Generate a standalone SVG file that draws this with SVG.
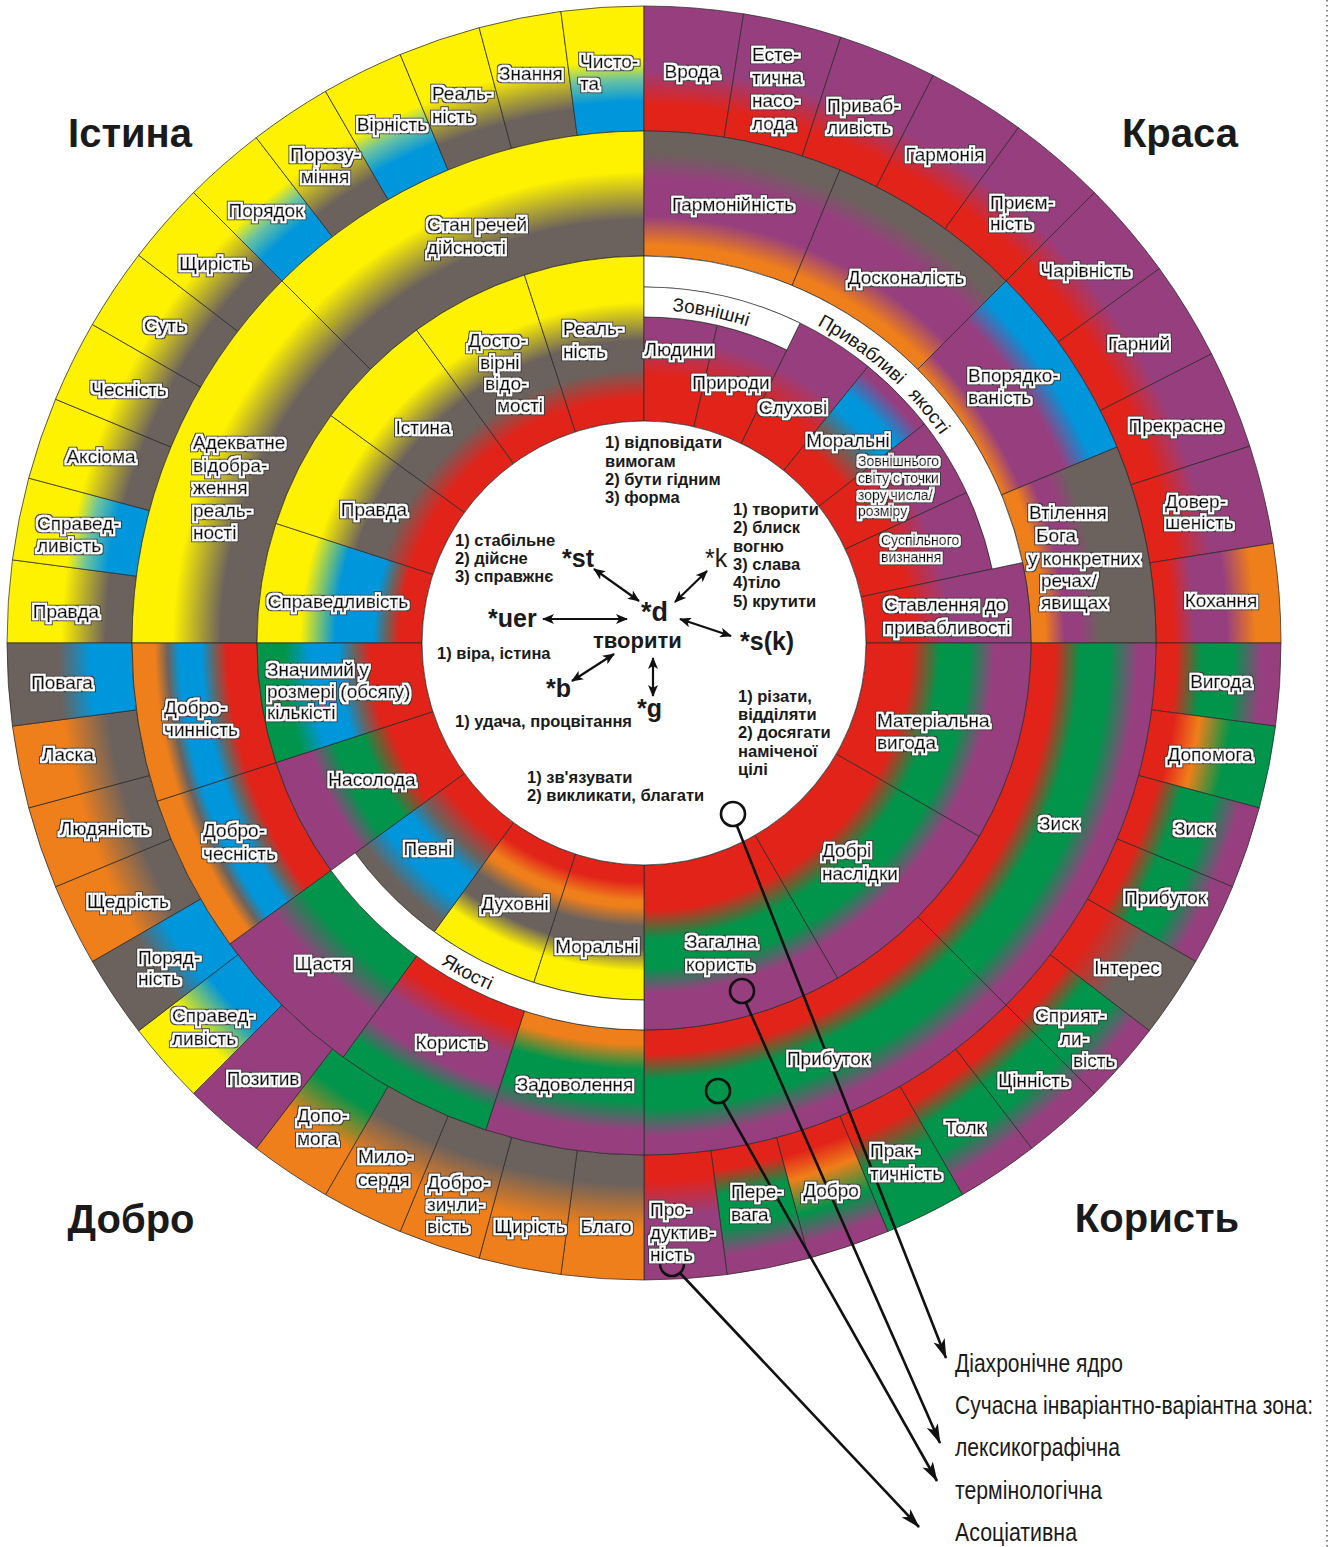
<svg xmlns="http://www.w3.org/2000/svg" width="1333" height="1547" viewBox="0 0 1333 1547">
<defs>
<style>
.Y{stop-color:#FFF200}.B{stop-color:#6C625D}.L{stop-color:#0096DB}.R{stop-color:#E2231A}.P{stop-color:#973F7E}.G{stop-color:#00954A}.O{stop-color:#EF7F1A}.T{stop-color:#6CC3A0}
.sec{stroke:#2a2a2a;stroke-width:.7}
.wb{fill:#fff;stroke:#2a2a2a;stroke-width:.7}
.lb{font-family:"Liberation Sans",Arial,sans-serif;font-size:19px;fill:#111;stroke:#111;stroke-width:.4}
.ls{font-size:14px;stroke-width:.3}
.m{text-anchor:middle}
.ab{font-family:"Liberation Sans",Arial,sans-serif;font-size:19px;fill:#161616}
.ct{font-family:"Liberation Sans",Arial,sans-serif;font-size:16.5px;font-weight:bold;fill:#1a1a1a}
.rt{font-family:"Liberation Sans",Arial,sans-serif;font-weight:bold;fill:#1a1a1a}
.ti{font-family:"Liberation Sans",Arial,sans-serif;font-size:40px;font-weight:bold;fill:#1a1a1a;text-anchor:middle}
.lg{font-family:"Liberation Sans Narrow","Liberation Sans",Arial,sans-serif;font-size:20px;fill:#1a1a1a}
.cn{fill:none;stroke:#111;stroke-width:2.6}
.ca{fill:none;stroke:#111;stroke-width:2.2}
</style>
<filter id="halo" x="-5%" y="-5%" width="110%" height="110%">
<feMorphology in="SourceAlpha" operator="dilate" radius="2.7" result="outer"/>
<feFlood flood-color="#3a3a3a" result="f1"/><feComposite in="f1" in2="outer" operator="in" result="rim"/>
<feMorphology in="SourceAlpha" operator="dilate" radius="2" result="inner"/>
<feFlood flood-color="#ffffff" result="f2"/><feComposite in="f2" in2="inner" operator="in" result="wh"/>
<feMerge><feMergeNode in="rim"/><feMergeNode in="wh"/><feMergeNode in="SourceGraphic"/></feMerge>
</filter>
<radialGradient id="g4YBr" gradientUnits="userSpaceOnUse" cx="644" cy="643" r="637"><stop offset=".804" class="B"/><stop offset=".845" class="B"/><stop offset=".915" class="Y"/><stop offset="1" class="Y"/></radialGradient>
<radialGradient id="g4YBl" gradientUnits="userSpaceOnUse" cx="644" cy="643" r="637"><stop offset=".804" class="L"/><stop offset=".85" class="L"/><stop offset=".885" class="T"/><stop offset=".915" class="Y"/><stop offset="1" class="Y"/></radialGradient>
<radialGradient id="g4PR" gradientUnits="userSpaceOnUse" cx="644" cy="643" r="637"><stop offset=".804" class="R"/><stop offset=".845" class="R"/><stop offset=".9" class="P"/><stop offset="1" class="P"/></radialGradient>
<radialGradient id="g4Kox" gradientUnits="userSpaceOnUse" cx="644" cy="643" r="637"><stop offset=".804" class="R"/><stop offset=".83" class="R"/><stop offset=".865" class="P"/><stop offset=".915" class="P"/><stop offset=".96" class="O"/><stop offset="1" class="O"/></radialGradient>
<radialGradient id="g4RGP" gradientUnits="userSpaceOnUse" cx="644" cy="643" r="637"><stop offset=".804" class="R"/><stop offset=".835" class="R"/><stop offset=".875" class="G"/><stop offset=".925" class="G"/><stop offset=".97" class="P"/><stop offset="1" class="P"/></radialGradient>
<radialGradient id="g4ROG" gradientUnits="userSpaceOnUse" cx="644" cy="643" r="637"><stop offset=".804" class="R"/><stop offset=".84" class="R"/><stop offset=".88" class="O"/><stop offset=".93" class="G"/><stop offset="1" class="G"/></radialGradient>
<radialGradient id="g4RBr" gradientUnits="userSpaceOnUse" cx="644" cy="643" r="637"><stop offset=".804" class="R"/><stop offset=".84" class="R"/><stop offset=".91" class="B"/><stop offset="1" class="B"/></radialGradient>
<radialGradient id="g4RG" gradientUnits="userSpaceOnUse" cx="644" cy="643" r="637"><stop offset=".804" class="R"/><stop offset=".845" class="R"/><stop offset=".9" class="G"/><stop offset="1" class="G"/></radialGradient>
<radialGradient id="g4ROGP" gradientUnits="userSpaceOnUse" cx="644" cy="643" r="637"><stop offset=".804" class="R"/><stop offset=".835" class="R"/><stop offset=".875" class="O"/><stop offset=".93" class="G"/><stop offset=".975" class="P"/><stop offset="1" class="P"/></radialGradient>
<radialGradient id="g4BlBr" gradientUnits="userSpaceOnUse" cx="644" cy="643" r="637"><stop offset=".804" class="L"/><stop offset=".87" class="L"/><stop offset=".92" class="B"/><stop offset="1" class="B"/></radialGradient>
<radialGradient id="g4BrO" gradientUnits="userSpaceOnUse" cx="644" cy="643" r="637"><stop offset=".804" class="B"/><stop offset=".85" class="B"/><stop offset=".92" class="O"/><stop offset="1" class="O"/></radialGradient>
<radialGradient id="g4BlY" gradientUnits="userSpaceOnUse" cx="644" cy="643" r="637"><stop offset=".804" class="L"/><stop offset=".86" class="L"/><stop offset=".93" class="Y"/><stop offset="1" class="Y"/></radialGradient>
<radialGradient id="g4GO" gradientUnits="userSpaceOnUse" cx="644" cy="643" r="637"><stop offset=".804" class="G"/><stop offset=".85" class="G"/><stop offset=".92" class="O"/><stop offset="1" class="O"/></radialGradient>
<radialGradient id="g3YBr" gradientUnits="userSpaceOnUse" cx="644" cy="643" r="637"><stop offset=".608" class="B"/><stop offset=".665" class="B"/><stop offset=".74" class="Y"/><stop offset=".804" class="Y"/></radialGradient>
<radialGradient id="g3Harm" gradientUnits="userSpaceOnUse" cx="644" cy="643" r="637"><stop offset=".608" class="O"/><stop offset=".625" class="O"/><stop offset=".67" class="P"/><stop offset=".73" class="P"/><stop offset=".77" class="B"/><stop offset=".804" class="B"/></radialGradient>
<radialGradient id="g3Vpor" gradientUnits="userSpaceOnUse" cx="644" cy="643" r="637"><stop offset=".608" class="O"/><stop offset=".64" class="P"/><stop offset=".715" class="P"/><stop offset=".76" class="L"/><stop offset=".804" class="L"/></radialGradient>
<radialGradient id="g3Vtil" gradientUnits="userSpaceOnUse" cx="644" cy="643" r="637"><stop offset=".608" class="O"/><stop offset=".63" class="O"/><stop offset=".66" class="P"/><stop offset=".685" class="P"/><stop offset=".715" class="B"/><stop offset=".804" class="B"/></radialGradient>
<radialGradient id="g3Dch" gradientUnits="userSpaceOnUse" cx="644" cy="643" r="637"><stop offset=".608" class="R"/><stop offset=".655" class="R"/><stop offset=".675" class="B"/><stop offset=".695" class="L"/><stop offset=".73" class="L"/><stop offset=".748" class="B"/><stop offset=".768" class="O"/><stop offset=".804" class="O"/></radialGradient>
<radialGradient id="g3Shch" gradientUnits="userSpaceOnUse" cx="644" cy="643" r="637"><stop offset=".608" class="G"/><stop offset=".66" class="G"/><stop offset=".72" class="P"/><stop offset=".804" class="P"/></radialGradient>
<radialGradient id="g3Kor" gradientUnits="userSpaceOnUse" cx="644" cy="643" r="637"><stop offset=".608" class="R"/><stop offset=".635" class="R"/><stop offset=".68" class="P"/><stop offset=".73" class="P"/><stop offset=".77" class="G"/><stop offset=".804" class="G"/></radialGradient>
<radialGradient id="g3Zad" gradientUnits="userSpaceOnUse" cx="644" cy="643" r="637"><stop offset=".608" class="O"/><stop offset=".63" class="O"/><stop offset=".67" class="G"/><stop offset=".72" class="G"/><stop offset=".765" class="P"/><stop offset=".804" class="P"/></radialGradient>
<radialGradient id="g3RGP" gradientUnits="userSpaceOnUse" cx="644" cy="643" r="637"><stop offset=".608" class="R"/><stop offset=".645" class="R"/><stop offset=".685" class="G"/><stop offset=".73" class="G"/><stop offset=".775" class="P"/><stop offset=".804" class="P"/></radialGradient>
<radialGradient id="g2RBlY" gradientUnits="userSpaceOnUse" cx="644" cy="643" r="637"><stop offset=".349" class="R"/><stop offset=".385" class="R"/><stop offset=".405" class="B"/><stop offset=".425" class="L"/><stop offset=".485" class="L"/><stop offset=".54" class="Y"/><stop offset=".608" class="Y"/></radialGradient>
<radialGradient id="g2RBrY" gradientUnits="userSpaceOnUse" cx="644" cy="643" r="637"><stop offset=".349" class="R"/><stop offset=".385" class="R"/><stop offset=".43" class="B"/><stop offset=".475" class="B"/><stop offset=".535" class="Y"/><stop offset=".608" class="Y"/></radialGradient>
<radialGradient id="g2RP" gradientUnits="userSpaceOnUse" cx="644" cy="643" r="637"><stop offset=".349" class="R"/><stop offset=".42" class="R"/><stop offset=".48" class="P"/><stop offset=".608" class="P"/></radialGradient>
<radialGradient id="g2Mor" gradientUnits="userSpaceOnUse" cx="644" cy="643" r="637"><stop offset=".349" class="R"/><stop offset=".40" class="R"/><stop offset=".44" class="B"/><stop offset=".475" class="L"/><stop offset=".505" class="L"/><stop offset=".545" class="P"/><stop offset=".608" class="P"/></radialGradient>
<radialGradient id="g2RBlG" gradientUnits="userSpaceOnUse" cx="644" cy="643" r="637"><stop offset=".349" class="R"/><stop offset=".43" class="R"/><stop offset=".455" class="B"/><stop offset=".48" class="L"/><stop offset=".525" class="L"/><stop offset=".565" class="G"/><stop offset=".608" class="G"/></radialGradient>
<radialGradient id="g2RGP" gradientUnits="userSpaceOnUse" cx="644" cy="643" r="637"><stop offset=".349" class="R"/><stop offset=".42" class="R"/><stop offset=".465" class="G"/><stop offset=".51" class="G"/><stop offset=".55" class="P"/><stop offset=".608" class="P"/></radialGradient>
<radialGradient id="g2Pev" gradientUnits="userSpaceOnUse" cx="644" cy="643" r="637"><stop offset=".349" class="R"/><stop offset=".385" class="R"/><stop offset=".425" class="B"/><stop offset=".455" class="L"/><stop offset=".5" class="L"/><stop offset=".54" class="B"/><stop offset=".56" class="B"/></radialGradient>
<radialGradient id="g2ROBrY" gradientUnits="userSpaceOnUse" cx="644" cy="643" r="637"><stop offset=".349" class="R"/><stop offset=".375" class="R"/><stop offset=".405" class="O"/><stop offset=".415" class="O"/><stop offset=".445" class="B"/><stop offset=".48" class="B"/><stop offset=".515" class="Y"/><stop offset=".56" class="Y"/></radialGradient>
<path id="s4a" d="M644,131 L644,6 A637,637 0 0 1 727.15,11.45 L710.83,135.38 A512,512 0 0 0 644,131Z"/>
<path id="s4b" d="M644,131 L644,6 A637,637 0 0 1 743.65,13.84 L724.09,137.30 A512,512 0 0 0 644,131Z"/>
<path id="s3a" d="M644,256 L644,131 A512,512 0 0 1 1006.04,280.96 L917.65,369.35 A387,387 0 0 0 644,256Z"/>
<path id="s3b" d="M644,256 L644,131 A512,512 0 0 1 839.93,169.97 L792.10,285.46 A387,387 0 0 0 644,256Z"/>
<path id="s3c" d="M644,256 L644,131 A512,512 0 0 1 802.22,156.06 L763.59,274.94 A387,387 0 0 0 644,256Z"/>
<path id="s2a" d="M644,421 L644,256 A387,387 0 0 1 763.59,274.94 L712.60,431.86 A222,222 0 0 0 644,421Z"/>
<path id="s2b" d="M644,421 L644,256 A387,387 0 0 1 837.5,307.85 L755,450.74 A222,222 0 0 0 644,421Z"/>
<path id="s2c" d="M644,421 L644,256 A387,387 0 0 1 724.46,264.46 L690.16,425.85 A222,222 0 0 0 644,421Z"/>
<path id="s2d" d="M644,421 L644,287 A356,356 0 0 1 724.08,296.12 L693.94,426.69 A222,222 0 0 0 644,421Z"/>
<path id="s2e" d="M644,421 L644,317 A326,326 0 0 1 717.33,325.36 L693.94,426.69 A222,222 0 0 0 644,421Z"/>
<path id="s2f" d="M644,421 L644,286 A357,357 0 0 1 754.32,303.47 L712.60,431.86 A222,222 0 0 0 644,421Z"/>
<path id="arcZ" d="M644,310 A333,333 0 0 1 789.98,343.70"/>
<path id="arcP" d="M767.81,302.83 A362,362 0 0 1 993.67,549.31"/>
<path id="arcY" d="M352.90,887.26 A380,380 0 0 0 610.88,1021.55"/>
<marker id="ah" viewBox="0 0 20 12" refX="19" refY="6" markerWidth="20" markerHeight="12" markerUnits="userSpaceOnUse" orient="auto"><path d="M0,0 L20,6 L0,12 L5,6Z" fill="#111"/></marker>
<marker id="ac" viewBox="0 0 12 10" refX="11" refY="5" markerWidth="12" markerHeight="10" markerUnits="userSpaceOnUse" orient="auto-start-reverse"><path d="M0,0 L12,5 L0,10 L3,5Z" fill="#111"/></marker>
</defs>
<rect width="1333" height="1547" fill="#fff"/>
<line x1="1327" y1="0" x2="1327" y2="1547" stroke="#666" stroke-width="1.6" stroke-dasharray="1.6 3.4"/>

<g id="ring4" class="sec">
<g id="r4-pravda"><use href="#s4a" transform="rotate(270 644 643)" fill="url(#g4YBr)"/></g>
<g id="r4-spravedlyvist"><use href="#s4a" transform="rotate(277.5 644 643)" fill="url(#g4YBl)"/></g>
<g id="r4-aksioma"><use href="#s4a" transform="rotate(285 644 643)" fill="url(#g4YBr)"/></g>
<g id="r4-chesnist"><use href="#s4a" transform="rotate(292.5 644 643)" fill="url(#g4YBr)"/></g>
<g id="r4-sut"><use href="#s4a" transform="rotate(300 644 643)" fill="url(#g4YBr)"/></g>
<g id="r4-shchyrist"><use href="#s4a" transform="rotate(307.5 644 643)" fill="url(#g4YBr)"/></g>
<g id="r4-poriadok"><use href="#s4a" transform="rotate(315 644 643)" fill="url(#g4YBl)"/></g>
<g id="r4-porozuminnia"><use href="#s4a" transform="rotate(322.5 644 643)" fill="url(#g4YBr)"/></g>
<g id="r4-virnist"><use href="#s4a" transform="rotate(330 644 643)" fill="url(#g4YBl)"/></g>
<g id="r4-realnist"><use href="#s4a" transform="rotate(337.5 644 643)" fill="url(#g4YBr)"/></g>
<g id="r4-znannia"><use href="#s4a" transform="rotate(345 644 643)" fill="url(#g4YBr)"/></g>
<g id="r4-chystota"><use href="#s4a" transform="rotate(352.5 644 643)" fill="url(#g4YBl)"/></g>
<g id="r4-vroda"><use href="#s4b" fill="url(#g4PR)"/></g>
<g id="r4-estetychna"><use href="#s4b" transform="rotate(9 644 643)" fill="url(#g4PR)"/></g>
<g id="r4-pryvablyvist"><use href="#s4b" transform="rotate(18 644 643)" fill="url(#g4PR)"/></g>
<g id="r4-harmoniia"><use href="#s4b" transform="rotate(27 644 643)" fill="url(#g4PR)"/></g>
<g id="r4-pryiemnist"><use href="#s4b" transform="rotate(36 644 643)" fill="url(#g4PR)"/></g>
<g id="r4-charivnist"><use href="#s4b" transform="rotate(45 644 643)" fill="url(#g4PR)"/></g>
<g id="r4-harnyi"><use href="#s4b" transform="rotate(54 644 643)" fill="url(#g4PR)"/></g>
<g id="r4-prekrasne"><use href="#s4b" transform="rotate(63 644 643)" fill="url(#g4PR)"/></g>
<g id="r4-dovershenist"><use href="#s4b" transform="rotate(72 644 643)" fill="url(#g4PR)"/></g>
<g id="r4-kokhannia"><use href="#s4b" transform="rotate(81 644 643)" fill="url(#g4Kox)"/></g>
<g id="r4-vyhoda"><use href="#s4a" transform="rotate(90 644 643)" fill="url(#g4RGP)"/></g>
<g id="r4-dopomoha-k"><use href="#s4a" transform="rotate(97.5 644 643)" fill="url(#g4ROG)"/></g>
<g id="r4-zysk"><use href="#s4a" transform="rotate(105 644 643)" fill="url(#g4RGP)"/></g>
<g id="r4-prybutok"><use href="#s4a" transform="rotate(112.5 644 643)" fill="url(#g4RGP)"/></g>
<g id="r4-interes"><use href="#s4a" transform="rotate(120 644 643)" fill="url(#g4RBr)"/></g>
<g id="r4-spryiatlyvist"><use href="#s4a" transform="rotate(127.5 644 643)" fill="url(#g4RGP)"/></g>
<g id="r4-tsinnist"><use href="#s4a" transform="rotate(135 644 643)" fill="url(#g4RGP)"/></g>
<g id="r4-tolk"><use href="#s4a" transform="rotate(142.5 644 643)" fill="url(#g4RGP)"/></g>
<g id="r4-praktychnist"><use href="#s4a" transform="rotate(150 644 643)" fill="url(#g4RG)"/></g>
<g id="r4-dobro"><use href="#s4a" transform="rotate(157.5 644 643)" fill="url(#g4ROGP)"/></g>
<g id="r4-perevaha"><use href="#s4a" transform="rotate(165 644 643)" fill="url(#g4RGP)"/></g>
<g id="r4-produktyvnist"><use href="#s4a" transform="rotate(172.5 644 643)" fill="url(#g4PR)"/></g>
<g id="r4-blaho"><use href="#s4a" transform="rotate(180 644 643)" fill="url(#g4BrO)"/></g>
<g id="r4-shchyrist-d"><use href="#s4a" transform="rotate(187.5 644 643)" fill="url(#g4BrO)"/></g>
<g id="r4-dobrozychlyvist"><use href="#s4a" transform="rotate(195 644 643)" fill="url(#g4BrO)"/></g>
<g id="r4-myloserdia"><use href="#s4a" transform="rotate(202.5 644 643)" fill="url(#g4BrO)"/></g>
<g id="r4-dopomoha-d"><use href="#s4a" transform="rotate(210 644 643)" fill="url(#g4GO)"/></g>
<g id="r4-pozytyv"><use href="#s4a" transform="rotate(217.5 644 643)" fill="#973F7E"/></g>
<g id="r4-spravedlyvist-d"><use href="#s4a" transform="rotate(225 644 643)" fill="url(#g4BlY)"/></g>
<g id="r4-poriadnist"><use href="#s4a" transform="rotate(232.5 644 643)" fill="url(#g4BlBr)"/></g>
<g id="r4-shchedrist"><use href="#s4a" transform="rotate(240 644 643)" fill="url(#g4BrO)"/></g>
<g id="r4-liudianist"><use href="#s4a" transform="rotate(247.5 644 643)" fill="url(#g4BrO)"/></g>
<g id="r4-laska"><use href="#s4a" transform="rotate(255 644 643)" fill="url(#g4BrO)"/></g>
<g id="r4-povaha"><use href="#s4a" transform="rotate(262.5 644 643)" fill="url(#g4BlBr)"/></g>
</g>

<g id="ring3" class="sec">
<g id="r3-adekvatne"><use href="#s3a" transform="rotate(270 644 643)" fill="url(#g3YBr)"/></g>
<g id="r3-stan"><use href="#s3a" transform="rotate(315 644 643)" fill="url(#g3YBr)"/></g>
<g id="r3-harmoniinist"><use href="#s3b" fill="url(#g3Harm)"/></g>
<g id="r3-doskonalist"><use href="#s3b" transform="rotate(22.5 644 643)" fill="url(#g3Harm)"/></g>
<g id="r3-vporiadkovanist"><use href="#s3b" transform="rotate(45 644 643)" fill="url(#g3Vpor)"/></g>
<g id="r3-vtilennia"><use href="#s3b" transform="rotate(67.5 644 643)" fill="url(#g3Vtil)"/></g>
<g id="r3-zysk"><use href="#s3a" transform="rotate(90 644 643)" fill="url(#g3RGP)"/></g>
<g id="r3-prybutok"><use href="#s3a" transform="rotate(135 644 643)" fill="url(#g3RGP)"/></g>
<g id="r3-zadovolennia"><use href="#s3c" transform="rotate(180 644 643)" fill="url(#g3Zad)"/></g>
<g id="r3-koryst"><use href="#s3c" transform="rotate(198 644 643)" fill="url(#g3Kor)"/></g>
<g id="r3-shchastia"><use href="#s3c" transform="rotate(216 644 643)" fill="url(#g3Shch)"/></g>
<g id="r3-dobrochesnist"><use href="#s3c" transform="rotate(234 644 643)" fill="url(#g3Dch)"/></g>
<g id="r3-dobrochynnist"><use href="#s3c" transform="rotate(252 644 643)" fill="url(#g3Dch)"/></g>
</g>

<g id="ring2" class="sec">
<g id="r2-spravedlyvist"><use href="#s2a" transform="rotate(270 644 643)" fill="url(#g2RBlY)"/></g>
<g id="r2-pravda"><use href="#s2a" transform="rotate(288 644 643)" fill="url(#g2RBrY)"/></g>
<g id="r2-istyna"><use href="#s2a" transform="rotate(306 644 643)" fill="url(#g2RBrY)"/></g>
<g id="r2-dostovirni"><use href="#s2a" transform="rotate(324 644 643)" fill="url(#g2RBrY)"/></g>
<g id="r2-realnist"><use href="#s2a" transform="rotate(342 644 643)" fill="url(#g2RBrY)"/></g>
<g id="r2-liudyny"><use href="#s2e" fill="url(#g2RP)"/></g>
<g id="r2-pryrody"><use href="#s2e" transform="rotate(13 644 643)" fill="url(#g2RP)"/></g>
<g id="r2-slukhovi"><use href="#s2d" transform="rotate(26 644 643)" fill="url(#g2RP)"/></g>
<g id="r2-moralni-k"><use href="#s2d" transform="rotate(39 644 643)" fill="url(#g2Mor)"/></g>
<g id="r2-zovnishnoho"><use href="#s2d" transform="rotate(52 644 643)" fill="url(#g2RP)"/></g>
<g id="r2-suspilnoho"><use href="#s2d" transform="rotate(65 644 643)" fill="url(#g2RP)"/></g>
<g id="r2-stavlennia"><use href="#s2c" transform="rotate(78 644 643)" fill="url(#g2RP)"/></g>
<g id="r2-materialna"><use href="#s2b" transform="rotate(90 644 643)" fill="url(#g2RGP)"/></g>
<g id="r2-dobri"><use href="#s2b" transform="rotate(120 644 643)" fill="url(#g2RGP)"/></g>
<g id="r2-zahalna"><use href="#s2b" transform="rotate(150 644 643)" fill="url(#g2RGP)"/></g>
<g id="r2-moralni-d"><use href="#s2f" transform="rotate(180 644 643)" fill="url(#g2ROBrY)"/></g>
<g id="r2-dukhovni"><use href="#s2f" transform="rotate(198 644 643)" fill="url(#g2ROBrY)"/></g>
<g id="r2-pevni"><use href="#s2f" transform="rotate(216 644 643)" fill="url(#g2Pev)"/></g>
<g id="r2-nasoloda"><use href="#s2a" transform="rotate(234 644 643)" fill="url(#g2RGP)"/></g>
<g id="r2-znachymyi"><use href="#s2a" transform="rotate(252 644 643)" fill="url(#g2RBlG)"/></g>
</g>

<g id="white-bands">
<g id="band-pryvablyvi"><path class="wb" d="M644,287 L644,256 A387,387 0 0 1 1022.54,562.54 L992.22,568.98 A356,356 0 0 0 644,287Z"/>
<text class="ab"><textPath href="#arcP" startOffset="54">Привабливі</textPath></text>
<text class="ab"><textPath href="#arcP" startOffset="169">якості</textPath></text></g>
<g id="band-zovnishni"><path class="wb" d="M644,317 L644,287 A356,356 0 0 1 800.06,323.03 L786.91,349.99 A326,326 0 0 0 644,317Z"/>
<text class="ab"><textPath href="#arcZ" startOffset="28">Зовнішні</textPath></text></g>
<g id="band-yakosti"><path class="wb" transform="rotate(180 644 643)" d="M644,286 L644,256 A387,387 0 0 1 957.09,415.53 L932.82,433.16 A357,357 0 0 0 644,286Z"/>
<text class="ab"><textPath href="#arcY" startOffset="117">Якості</textPath></text></g>
<circle id="core" cx="644" cy="643" r="222" fill="#fff" stroke="#2a2a2a" stroke-width=".7"/>
</g>

<g id="connectors">
<circle class="cn" cx="733" cy="814" r="12"/>
<circle class="cn" cx="742" cy="991" r="12"/>
<circle class="cn" cx="718" cy="1091" r="12"/>
<circle class="cn" cx="672" cy="1264" r="12"/>
<line class="cn" x1="737" y1="826" x2="946" y2="1358" marker-end="url(#ah)"/>
<line class="cn" x1="746" y1="1003" x2="940" y2="1443" marker-end="url(#ah)"/>
<line class="cn" x1="723" y1="1102" x2="937" y2="1481" marker-end="url(#ah)"/>
<line class="cn" x1="680" y1="1273" x2="919" y2="1527" marker-end="url(#ah)"/>
<line class="ca" x1="594" y1="569" x2="639" y2="601" marker-start="url(#ac)" marker-end="url(#ac)"/>
<line class="ca" x1="707" y1="571" x2="675" y2="602" marker-start="url(#ac)" marker-end="url(#ac)"/>
<line class="ca" x1="543" y1="619" x2="627" y2="619" marker-start="url(#ac)" marker-end="url(#ac)"/>
<line class="ca" x1="680" y1="619" x2="731" y2="636" marker-start="url(#ac)" marker-end="url(#ac)"/>
<line class="ca" x1="572" y1="681" x2="614" y2="654" marker-start="url(#ac)" marker-end="url(#ac)"/>
<line class="ca" x1="653" y1="658" x2="653" y2="696" marker-start="url(#ac)" marker-end="url(#ac)"/>
</g>

<g id="labels">
<g id="l-ring4" class="lb" filter="url(#halo)">
<text x="580" y="68">Чисто-<tspan x="580" y="90">та</tspan></text>
<text class="m" x="531" y="80">Знання</text>
<text x="432" y="100">Реаль-<tspan x="432" y="123">ність</tspan></text>
<text class="m" x="392" y="131">Вірність</text>
<text class="m" x="325" y="161">Порозу-<tspan x="325" y="183">міння</tspan></text>
<text class="m" x="266" y="217">Порядок</text>
<text class="m" x="215" y="270">Щирість</text>
<text class="m" x="165" y="332">Суть</text>
<text class="m" x="129" y="396">Чесність</text>
<text class="m" x="101" y="463">Аксіома</text>
<text x="37" y="530">Справед-<tspan x="37" y="552">ливість</tspan></text>
<text class="m" x="66" y="618">Правда</text>
<text class="m" x="692" y="78">Врода</text>
<text x="752" y="61">Есте-<tspan x="752" y="84">тична</tspan><tspan x="752" y="107">насо-</tspan><tspan x="752" y="130">лода</tspan></text>
<text x="827" y="112">Приваб-<tspan x="827" y="134">ливість</tspan></text>
<text class="m" x="945" y="161">Гармонія</text>
<text x="990" y="209">Приєм-<tspan x="990" y="230">ність</tspan></text>
<text class="m" x="1086" y="277">Чарівність</text>
<text class="m" x="1139" y="350">Гарний</text>
<text class="m" x="1176" y="432">Прекрасне</text>
<text x="1165" y="508">Довер-<tspan x="1165" y="529">шеність</tspan></text>
<text class="m" x="1221" y="607">Кохання</text>
<text class="m" x="1221" y="688">Вигода</text>
<text class="m" x="1210" y="761">Допомога</text>
<text class="m" x="1194" y="835">Зиск</text>
<text class="m" x="1165" y="904">Прибуток</text>
<text class="m" x="1127" y="974">Інтерес</text>
<text x="1035" y="1022">Сприят-<tspan x="1060" y="1045">ли-</tspan><tspan x="1073" y="1067">вість</tspan></text>
<text class="m" x="1034" y="1087">Цінність</text>
<text class="m" x="965" y="1134">Толк</text>
<text x="870" y="1157">Прак-<tspan x="870" y="1180">тичність</tspan></text>
<text class="m" x="831" y="1197">Добро</text>
<text x="731" y="1198">Пере-<tspan x="731" y="1221">вага</tspan></text>
<text x="650" y="1216">Про-<tspan x="650" y="1239">дуктив-</tspan><tspan x="650" y="1261">ність</tspan></text>
<text class="m" x="62" y="689">Повага</text>
<text class="m" x="68" y="761">Ласка</text>
<text class="m" x="105" y="835">Людяність</text>
<text class="m" x="128" y="908">Щедрість</text>
<text x="138" y="964">Поряд-<tspan x="138" y="985">ність</tspan></text>
<text x="172" y="1022">Справед-<tspan x="172" y="1045">ливість</tspan></text>
<text class="m" x="263" y="1085">Позитив</text>
<text x="297" y="1122">Допо-<tspan x="297" y="1145">мога</tspan></text>
<text x="358" y="1163">Мило-<tspan x="358" y="1186">сердя</tspan></text>
<text x="427" y="1189">Добро-<tspan x="427" y="1211">зичли-</tspan><tspan x="427" y="1233">вість</tspan></text>
<text class="m" x="530" y="1233">Щирість</text>
<text class="m" x="606" y="1233">Благо</text>
</g>
<g id="l-ring3" class="lb" filter="url(#halo)">
<text x="427" y="231">Стан речей<tspan x="427" y="254">дійсності</tspan></text>
<text x="193" y="449">Адекватне<tspan x="193" y="472">відобра-</tspan><tspan x="193" y="494">ження</tspan><tspan x="193" y="517">реаль-</tspan><tspan x="193" y="539">ності</tspan></text>
<text class="m" x="733" y="211">Гармонійність</text>
<text class="m" x="906" y="284">Досконалість</text>
<text x="968" y="382">Впорядко-<tspan x="968" y="404">ваність</tspan></text>
<text x="1029" y="519">Втілення<tspan x="1036" y="542">Бога</tspan><tspan x="1028" y="565">у конкретних</tspan><tspan x="1041" y="587">речах/</tspan><tspan x="1041" y="609">явищах</tspan></text>
<text x="164" y="714">Добро-<tspan x="164" y="736">чинність</tspan></text>
<text x="203" y="837">Добро-<tspan x="203" y="860">чесність</tspan></text>
<text class="m" x="323" y="970">Щастя</text>
<text class="m" x="451" y="1049">Користь</text>
<text class="m" x="575" y="1091">Задоволення</text>
<text class="m" x="1059" y="830">Зиск</text>
<text class="m" x="828" y="1065">Прибуток</text>
</g>
<g id="l-ring2" class="lb" filter="url(#halo)">
<text x="563" y="335">Реаль-<tspan x="563" y="358">ність</tspan></text>
<text x="468" y="347">Досто-<tspan x="480" y="369">вірні</tspan><tspan x="485" y="390">відо-</tspan><tspan x="497" y="412">мості</tspan></text>
<text class="m" x="423" y="434">Істина</text>
<text class="m" x="374" y="516">Правда</text>
<text class="m" x="338" y="608">Справедливість</text>
<text class="m" x="679" y="356">Людини</text>
<text class="m" x="731" y="389">Природи</text>
<text class="m" x="793" y="414">Слухові</text>
<text class="m" x="848" y="447">Моральні</text>
<text class="ls" x="858" y="466">Зовнішнього<tspan x="858" y="483">світу с точки</tspan><tspan x="858" y="500">зору числа/</tspan><tspan x="858" y="516">розміру</tspan></text>
<text class="ls" x="881" y="545">Суспільного<tspan x="881" y="562">визнання</tspan></text>
<text x="884" y="611">Ставлення до<tspan x="884" y="634">привабливості</tspan></text>
<text x="877" y="727">Матеріальна<tspan x="877" y="749">вигода</tspan></text>
<text x="822" y="857">Добрі<tspan x="822" y="880">наслідки</tspan></text>
<text x="686" y="948">Загална<tspan x="686" y="971">користь</tspan></text>
<text x="267" y="676">Значимий у<tspan x="267" y="698">розмері (обсягу)</tspan><tspan x="267" y="719">кількісті</tspan></text>
<text class="m" x="372" y="786">Насолода</text>
<text class="m" x="428" y="855">Певні</text>
<text class="m" x="515" y="910">Духовні</text>
<text class="m" x="597" y="953">Моральні</text>
</g>
<g id="l-core">
<text class="ct" x="605" y="448">1) відповідати<tspan x="605" y="467">вимогам</tspan><tspan x="605" y="485">2) бути гідним</tspan><tspan x="605" y="503">3) форма</tspan></text>
<text class="ct" x="455" y="546">1) стабільне<tspan x="455" y="564">2) дійсне</tspan><tspan x="455" y="582">3) справжнє</tspan></text>
<text class="ct" x="733" y="515">1) творити<tspan x="733" y="533">2) блиск</tspan><tspan x="733" y="552">вогню</tspan><tspan x="733" y="570">3) слава</tspan><tspan x="733" y="588">4)тіло</tspan><tspan x="733" y="607">5) крутити</tspan></text>
<text class="ct" x="437" y="659">1) віра, істина</text>
<text class="ct" x="455" y="727">1) удача, процвітання</text>
<text class="ct" x="738" y="702">1) різати,<tspan x="738" y="720">відділяти</tspan><tspan x="738" y="738">2) досягати</tspan><tspan x="738" y="757">наміченої</tspan><tspan x="738" y="775">цілі</tspan></text>
<text class="ct" x="527" y="783">1) зв'язувати<tspan x="527" y="801">2) викликати, благати</tspan></text>
<text class="rt" x="562" y="567" font-size="25">*st</text>
<text x="705" y="567" font-size="25" font-family="Liberation Sans, Arial, sans-serif" fill="#1a1a1a">*k</text>
<text class="rt" x="488" y="627" font-size="25">*uer</text>
<text class="rt" x="641" y="621" font-size="27">*d</text>
<text class="rt" x="593" y="648" font-size="22">творити</text>
<text class="rt" x="740" y="650" font-size="25">*s(k)</text>
<text class="rt" x="546" y="697" font-size="25">*b</text>
<text class="rt" x="637" y="717" font-size="25">*g</text>
</g>
<g id="titles">
<text class="ti" x="130" y="147">Істина</text>
<text class="ti" x="1180" y="147">Краса</text>
<text class="ti" x="131" y="1233">Добро</text>
<text class="ti" x="1157" y="1232">Користь</text>
</g>
<g id="legend">
<text class="lg" transform="translate(955 1372) scale(1 1.3)" x="0" y="0" textLength="168" lengthAdjust="spacingAndGlyphs">Діахронічне ядро</text>
<text class="lg" transform="translate(955 1414) scale(1 1.3)" x="0" y="0" textLength="358" lengthAdjust="spacingAndGlyphs">Сучасна інваріантно-варіантна зона:</text>
<text class="lg" transform="translate(955 1456) scale(1 1.3)" x="0" y="0" textLength="165" lengthAdjust="spacingAndGlyphs">лексикографічна</text>
<text class="lg" transform="translate(955 1499) scale(1 1.3)" x="0" y="0" textLength="147" lengthAdjust="spacingAndGlyphs">термінологічна</text>
<text class="lg" transform="translate(955 1541) scale(1 1.3)" x="0" y="0" textLength="122" lengthAdjust="spacingAndGlyphs">Асоціативна</text>
</g>
</g>
</svg>
